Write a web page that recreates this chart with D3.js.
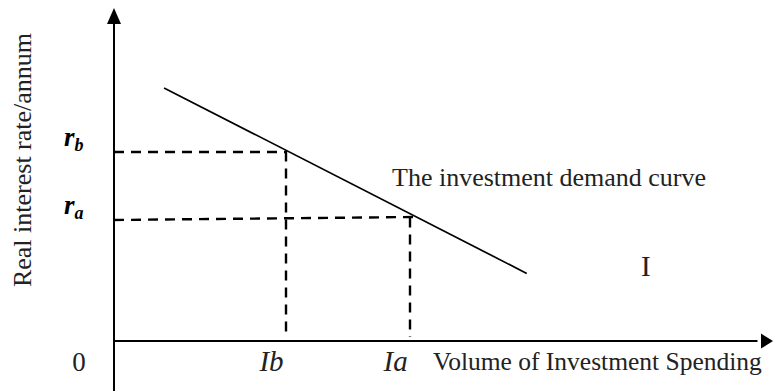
<!DOCTYPE html>
<html>
<head>
<meta charset="utf-8">
<script src="https://cdn.jsdelivr.net/npm/d3@7"></script>
<style>
  body { margin: 0; background: #fff; }
  svg text { font-family: "Liberation Serif", "Times New Roman", serif; fill: #222; }
</style>
</head>
<body>
<div id="chart"></div>
<script>
// demand curve end points (volume, rate) in chart units
var curveVolume = [0.77, 6.35];
var curveRate = [7.6, 2.03];

// marked interest rates and the volumes they give
var rateLabels = ["b", "a"];        // subscripts of r
var rates = [5.69, 3.62];           // where the dashed guide leaves the y axis
var ratesAtCurve = [5.69, 3.71];    // where it meets the curve
var volumes = [2.64, 4.55];
var volumeLabels = ["Ib", "Ia"];

var xTitle = "Volume of Investment Spending";
var yTitle = "Real interest rate/annum";
var curveTitle = "The investment demand curve";

function init() {
    var w = 773, h = 391;

    var x = d3.scaleLinear().domain([0, 10]).range([114, 764]);
    var y = d3.scaleLinear().domain([0, 10]).range([341, 8]);

    var svg = d3.select("#chart")
        .append("svg")
        .attr("width", w)
        .attr("height", h);

    // axes with arrow heads
    svg.append("line")
        .attr("x1", x(0)).attr("y1", y(-1.6))
        .attr("x2", x(0)).attr("y2", y(9.6))
        .attr("stroke", "#000").attr("stroke-width", 2);
    svg.append("line")
        .attr("x1", x(0) - 1).attr("y1", y(0))
        .attr("x2", x(9.9)).attr("y2", y(0))
        .attr("stroke", "#000").attr("stroke-width", 2);

    svg.append("path")
        .attr("d", "M" + x(0) + "," + y(10) + "l-7,16h14z")
        .attr("fill", "#000");
    svg.append("path")
        .attr("d", "M" + (x(10) + 9) + "," + y(0) + "l-12,-7.5v15z")
        .attr("fill", "#000");

    // dashed guides
    var guides = svg.append("g")
        .attr("stroke", "#000")
        .attr("stroke-width", 2.4)
        .attr("stroke-dasharray", "10,7");

    rates.forEach(function (r, i) {
        var vx = Math.round(x(volumes[i]));
        guides.append("line")
            .attr("x1", x(0)).attr("y1", Math.round(y(r)))
            .attr("x2", vx + (i === 1 ? 3 : 1)).attr("y2", Math.round(y(ratesAtCurve[i])));
        guides.append("line")
            .attr("x1", vx).attr("y1", y(ratesAtCurve[i]))
            .attr("x2", vx).attr("y2", y(0) - 4);
    });

    // investment demand curve
    var line = d3.line()
        .x(function (d) { return x(d[0]); })
        .y(function (d) { return y(d[1]); });

    svg.append("path")
        .datum(d3.zip(curveVolume, curveRate))
        .attr("d", line)
        .attr("fill", "none")
        .attr("stroke", "#000")
        .attr("stroke-width", 1.7);

    // rate labels r_b, r_a
    rateLabels.forEach(function (s, i) {
        var t = svg.append("text")
            .attr("x", 64)
            .attr("y", y(rates[i]) - 6)
            .style("font-weight", "bold")
            .style("font-style", "italic")
            .style("font-size", "27px")
            .style("fill", "#000");
        t.append("tspan").text("r");
        t.append("tspan")
            .attr("dy", 5)
            .style("font-size", "18px")
            .text(s);
    });

    // volume labels
    volumeLabels.forEach(function (s, i) {
        svg.append("text")
            .attr("x", x(volumes[i]) - 2)
            .attr("y", 371)
            .attr("text-anchor", "end")
            .style("font-style", "italic")
            .style("font-size", "29px")
            .text(s);
    });

    svg.append("text")
        .attr("x", 79).attr("y", 371)
        .attr("text-anchor", "middle")
        .style("font-size", "27px")
        .text("0");

    svg.append("text")
        .attr("x", 433).attr("y", 370)
        .style("font-size", "25.5px")
        .text(xTitle);

    svg.append("text")
        .attr("transform", "translate(31,160) rotate(-90)")
        .attr("text-anchor", "middle")
        .style("font-size", "26px")
        .text(yTitle);

    svg.append("text")
        .attr("x", 392).attr("y", 186)
        .style("font-size", "26px")
        .text(curveTitle);

    svg.append("text")
        .attr("x", 641).attr("y", 276)
        .style("font-size", "29px")
        .text("I");
}

init();
</script>
</body>
</html>
